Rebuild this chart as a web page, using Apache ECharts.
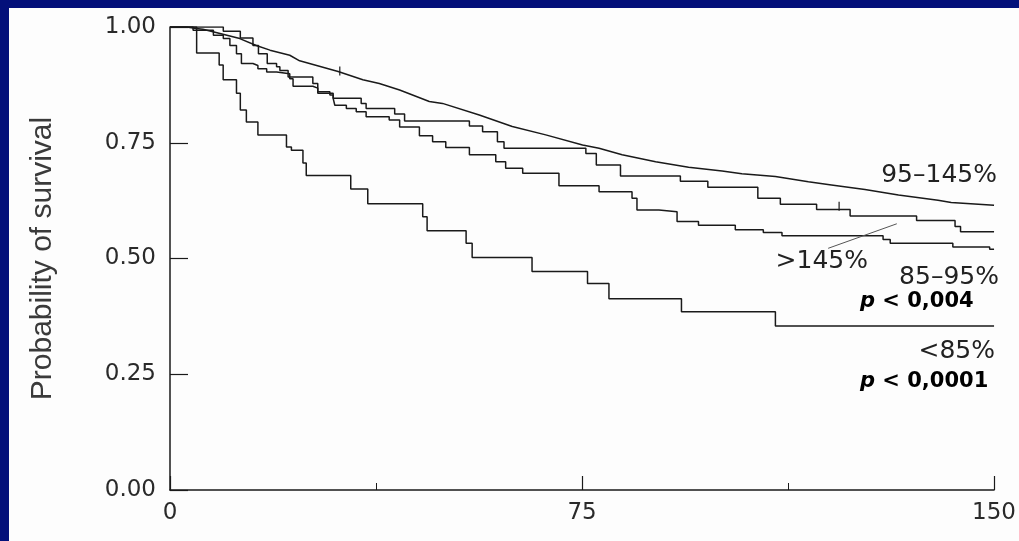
<!DOCTYPE html>
<html>
<head>
<meta charset="utf-8">
<script src="https://cdn.jsdelivr.net/npm/echarts@6/dist/echarts.min.js"></script>
<style>
  html, body { margin: 0; padding: 0; background: #03107a; }
  #chart { width: 1019px; height: 541px; }
</style>
</head>
<body>
<div id="chart"></div>
<script>
// tick labels
const xTicks = [0, 75, 150]
const yTicks = [0, 0.25, 0.5, 0.75, 1]

// 95–145% (top curve, many small steps)
const tNormal = [0, 3.0, 4.8, 6.0, 9.1, 12.7, 15.7, 18.2, 21.8, 23.6, 30.6, 35.1, 38.1, 41.8, 47.2, 49.6, 56.3, 62.3, 68.4, 75.1, 78.1, 82.3, 88.4, 94.4, 100.5, 104.1, 110.2, 116.2, 120.4, 126.5, 132.6, 139.8, 142.2, 150]
const sNormal = [1.0, 1.0, 0.997, 0.995, 0.986, 0.975, 0.960, 0.950, 0.939, 0.927, 0.904, 0.886, 0.878, 0.864, 0.839, 0.835, 0.810, 0.785, 0.767, 0.745, 0.738, 0.724, 0.709, 0.697, 0.689, 0.683, 0.677, 0.666, 0.659, 0.649, 0.637, 0.626, 0.621, 0.615]

// >145%
const tObese = [0, 9.7, 12.8, 15.1, 16.1, 17.7, 19.4, 20.0, 21.5, 26.0, 26.9, 29.1, 29.7, 34.8, 35.7, 40.9, 42.7, 54.5, 56.9, 59.6, 60.8, 75.7, 77.6, 82.0, 92.9, 97.9, 107.0, 111.1, 117.7, 123.8, 135.9, 142.9, 143.9, 150]
const sObese = [1.0, 0.991, 0.976, 0.960, 0.942, 0.921, 0.914, 0.906, 0.892, 0.878, 0.860, 0.853, 0.846, 0.835, 0.824, 0.812, 0.797, 0.786, 0.774, 0.752, 0.738, 0.727, 0.702, 0.678, 0.667, 0.654, 0.630, 0.617, 0.606, 0.592, 0.582, 0.569, 0.558, 0.558]

// 85–95%
const tLow = [0, 4.2, 7.9, 9.7, 10.9, 12.1, 13.0, 15.1, 16.0, 17.6, 19.4, 21.8, 22.4, 26.0, 26.9, 29.7, 30.0, 32.1, 33.9, 35.7, 39.9, 41.8, 45.4, 47.8, 50.2, 54.5, 59.3, 61.1, 64.2, 70.8, 78.1, 84.1, 85.0, 89.0, 92.3, 96.2, 102.9, 108.0, 111.4, 129.8, 131.1, 142.5, 149.2, 150]
const sLow = [1.0, 0.993, 0.982, 0.975, 0.960, 0.942, 0.921, 0.917, 0.910, 0.903, 0.899, 0.888, 0.872, 0.868, 0.857, 0.846, 0.831, 0.824, 0.817, 0.806, 0.799, 0.784, 0.765, 0.752, 0.740, 0.724, 0.709, 0.695, 0.684, 0.657, 0.644, 0.630, 0.605, 0.601, 0.580, 0.572, 0.562, 0.556, 0.549, 0.541, 0.533, 0.525, 0.520, 0.520]

// <85%
const tVeryLow = [0, 4.85, 8.95, 9.68, 12.1, 12.8, 13.9, 16.0, 21.2, 22.1, 24.2, 24.8, 32.9, 36.0, 46.0, 46.8, 53.9, 55.0, 65.9, 76.0, 79.9, 93.1, 110.2, 150]
const sVeryLow = [1.0, 0.944, 0.918, 0.886, 0.857, 0.821, 0.795, 0.767, 0.741, 0.734, 0.706, 0.679, 0.650, 0.618, 0.590, 0.560, 0.533, 0.502, 0.472, 0.446, 0.413, 0.385, 0.354, 0.354]

// censored marks and the pointer of the ">145%" label
const censorMarks = [[30.9, 0.905], [121.8, 0.613]]
const pointerLine = [[119.8, 0.522], [132.3, 0.575]]

const zip = (t, s) => t.map((v, i) => [v, s[i]])

const chart = echarts.init(document.getElementById('chart'))

const ink = '#1a1a1a'
const stepLine = (name, t, s, step) => ({
  name: name,
  type: 'line',
  step: step,
  symbol: 'none',
  data: zip(t, s),
  lineStyle: { color: ink, width: 1.5 }
})

const label = (text, x, y, align, size) => ({
  type: 'text',
  x: x,
  y: y,
  style: {
    text: text,
    fontSize: size || 25,
    fontFamily: 'DejaVu Sans',
    fill: '#222',
    align: align || 'right',
    verticalAlign: 'middle'
  }
})

const pLabel = (text, x, y) => ({
  type: 'text',
  x: x,
  y: y,
  style: {
    text: '{i|p} ' + text,
    fontSize: 21,
    fontFamily: 'DejaVu Sans',
    fontWeight: 'bold',
    fill: '#000',
    align: 'left',
    verticalAlign: 'middle',
    rich: {
      i: { fontSize: 21, fontFamily: 'DejaVu Sans', fontWeight: 'bold', fontStyle: 'italic', fill: '#000' }
    }
  }
})

const option = {
  animation: false,
  backgroundColor: 'transparent',
  grid: { left: 170, right: 23, top: 27, bottom: 51 },
  xAxis: {
    type: 'value',
    min: 0,
    max: 150,
    interval: 75,
    axisLine: { show: true, lineStyle: { color: ink, width: 1.5 } },
    axisTick: { show: true, inside: true, length: 14, lineStyle: { color: ink, width: 1.2 } },
    minorTick: { show: true, splitNumber: 2, length: 7, lineStyle: { color: ink, width: 1 } },
    splitLine: { show: false },
    axisLabel: {
      margin: 12,
      color: '#2a2a2a',
      fontSize: 23,
      fontFamily: 'DejaVu Sans',
      formatter: (v) => (xTicks.includes(v) ? String(v) : '')
    }
  },
  yAxis: {
    type: 'value',
    min: 0,
    max: 1,
    interval: 0.25,
    name: 'Probability of survival',
    nameLocation: 'middle',
    nameGap: 112,
    nameTextStyle: { fontSize: 30, fontFamily: 'Liberation Sans', color: '#3a3a3a' },
    axisLine: { show: true, lineStyle: { color: ink, width: 1.5 } },
    axisTick: { show: true, inside: true, length: 18, lineStyle: { color: ink, width: 1.2 } },
    splitLine: { show: false },
    axisLabel: {
      margin: 14,
      color: '#2a2a2a',
      fontSize: 23,
      fontFamily: 'DejaVu Sans',
      formatter: (v) => (yTicks.includes(v) ? v.toFixed(2) : '')
    }
  },
  series: [
    {
      name: '95–145%',
      type: 'line',
      symbol: 'none',
      data: zip(tNormal, sNormal),
      lineStyle: { color: ink, width: 1.5 }
    },
    stepLine('>145%', tObese, sObese, 'end'),
    stepLine('85–95%', tLow, sLow, 'end'),
    stepLine('<85%', tVeryLow, sVeryLow, 'end'),
    {
      name: 'censored',
      type: 'scatter',
      symbol: 'rect',
      symbolSize: [1.5, 9],
      data: censorMarks,
      itemStyle: { color: ink }
    },
    {
      name: 'pointer',
      type: 'line',
      symbol: 'none',
      data: pointerLine,
      lineStyle: { color: '#555', width: 1 }
    }
  ],
  graphic: [
    {
      type: 'rect',
      z: -10,
      silent: true,
      shape: { x: 9, y: 8, width: 1010, height: 533 },
      style: { fill: '#fdfdfd' }
    },
    label('95–145%', 997, 175),
    label('>145%', 868, 261),
    label('85–95%', 999, 277),
    pLabel('< 0,004', 860, 302),
    label('<85%', 995, 351),
    pLabel('< 0,0001', 860, 382)
  ]
}

chart.setOption(option)
</script>
</body>
</html>
